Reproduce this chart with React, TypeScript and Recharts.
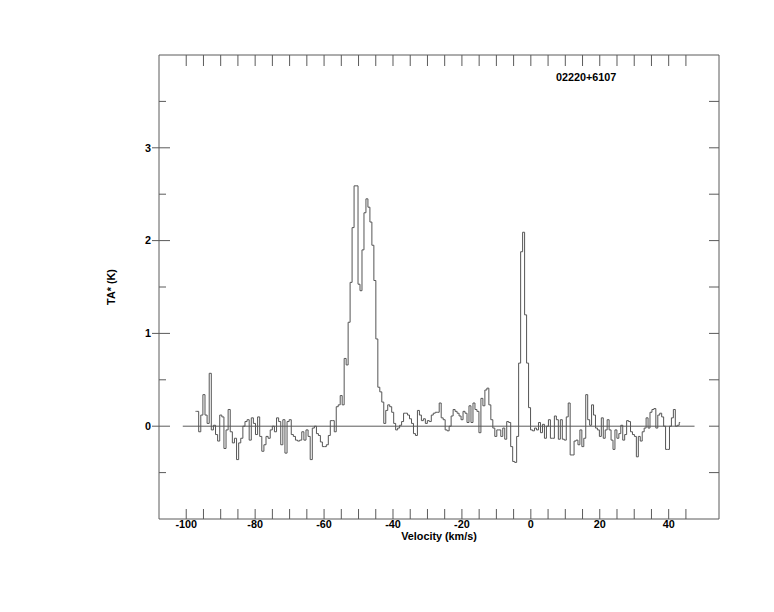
import React from 'react';
import { LineChart, Line, XAxis, YAxis, ReferenceLine } from 'recharts';

// Antenna temperature TA* (K) read channel by channel, in four velocity stretches
const SEG_A_TA = [0.16, 0.16, -0.06, 0.12, 0.34, 0.12, 0.03, 0.57, -0.04, 0.01, -0.09, -0.16, 0.12, 0.10, -0.24, -0.04, 0.18, -0.06, -0.18, -0.13, -0.36, -0.18, -0.13, 0.0, 0.05, 0.07, -0.15, 0.09, 0.03, -0.09, 0.10, -0.11, -0.27, -0.2, -0.11, -0.13, -0.04, 0.0, -0.06, 0.09, 0.05, -0.2, 0.07, -0.29, 0.05, 0.07, -0.09, -0.11, -0.15, -0.16, -0.15, -0.06, -0.15, -0.04, -0.11, -0.36, -0.02];
const SEG_B_TA = [0.0, -0.08, -0.10, -0.17, -0.22, -0.22, -0.2, -0.1, 0.06, 0.06, -0.06, 0.21, 0.23, 0.33, 0.23, 0.73, 0.66, 1.12, 1.55, 2.14, 2.59, 2.59, 1.53, 1.46, 1.9, 2.3, 2.45, 2.36, 2.2, 1.95, 1.57, 0.94, 0.42, 0.37, 0.26, 0.03, 0.17, 0.23, 0.21, 0.15, 0.03, -0.04, -0.02, 0.01, 0.05, 0.14, 0.14, 0.12, 0.08, 0.03, -0.08, -0.1, 0.17, 0.12, 0.06, 0.08, 0.03, 0.06, 0.05, 0.12, 0.14, 0.15, 0.15];
const SEG_C_TA = [0.25, 0.09, 0.07, -0.04, -0.05, 0.0, 0.11, 0.18, 0.16, 0.14, 0.11, 0.07, 0.16, 0.14, 0.04, 0.22, 0.04, 0.25, 0.18, 0.16, -0.07, 0.3, 0.22, 0.39, 0.41, 0.23, 0.07, -0.02, -0.11, -0.04, -0.04, -0.11, -0.02, -0.14, 0.05, 0.04, -0.22, -0.38, -0.39, -0.11, 0.68, 1.88, 2.09, 1.2, 0.68, 0.2, -0.04, -0.05, -0.02, -0.04, 0.04, -0.07, 0.02, -0.13, 0.0, 0.07, -0.13, -0.13, 0.11, 0.07, -0.14, 0.07, -0.14];
const SEG_D_TA = [-0.15, 0.10, 0.25, -0.31, -0.31, -0.16, -0.15, -0.2, -0.04, -0.22, -0.13, 0.34, 0.07, 0.01, 0.23, 0.12, -0.02, -0.04, -0.11, 0.09, -0.13, -0.04, 0.07, -0.04, -0.15, -0.25, -0.04, -0.13, -0.08, 0.01, -0.15, -0.09, 0.06, 0.05, -0.06, -0.09, -0.11, -0.33, -0.11, -0.16, -0.06, -0.02, 0.09, -0.02, 0.15, 0.18, 0.19, -0.02, 0.12, 0.14, 0.10, 0.0, -0.25, -0.25, 0.0, 0.09, 0.18, 0.0, 0.01, 0.04];
// velocity range (km/s) covered by each stretch
const SEG_A_V = [-97.3, -62.5];
const SEG_B_V = [-62.5, -26.3];
const SEG_C_V = [-26.3, 10.0];
const SEG_D_V = [10.0, 43.9];

const X_TICKS = [-100, -95, -90, -85, -80, -75, -70, -65, -60, -55, -50, -45, -40, -35, -30, -25, -20, -15, -10, -5, 0, 5, 10, 15, 20, 25, 30, 35, 40, 45];
const X_LABELS = [-100, -80, -60, -40, -20, 0, 20, 40];
const Y_TICKS = [-0.5, 0, 0.5, 1, 1.5, 2, 2.5, 3, 3.5];
const Y_LABELS = [0, 1, 2, 3];
const BASELINE_V = [-101, 47.5];
const SOURCE = '02220+6107';
const X_TITLE = 'Velocity (km/s)';
const Y_TITLE = 'TA* (K)';

const X_DOMAIN = [-107.9, 54.6];
const Y_DOMAIN = [-1, 4];

const AXIS = '#5a5a5a';
const FONT = '"Liberation Sans", Arial, Helvetica, sans-serif';

function buildSpectrum() {
  const out: { v: number; t: number }[] = [];
  const segs: [number[], number[]][] = [
    [SEG_A_TA, SEG_A_V],
    [SEG_B_TA, SEG_B_V],
    [SEG_C_TA, SEG_C_V],
    [SEG_D_TA, SEG_D_V],
  ];
  segs.forEach(([vals, range]) => {
    const dv = (range[1] - range[0]) / vals.length;
    vals.forEach((t, i) => out.push({ v: +(range[0] + i * dv).toFixed(3), t }));
  });
  return out;
}
const spectrum = buildSpectrum();

const txt = { fontFamily: FONT, fontWeight: 700, fontSize: 10.8, fill: '#000' } as const;

const BottomTick = (p: any) => {
  const { x, y, payload } = p;
  const v = payload.value;
  return (
    <g>
      <line x1={x} x2={x} y1={y} y2={y - 10} stroke={AXIS} strokeWidth={1} />
      {X_LABELS.includes(v) && (
        <text x={x} y={y + 9} textAnchor="middle" style={txt}>{v}</text>
      )}
    </g>
  );
};

const TopTick = (p: any) => {
  const { x, y } = p;
  return <line x1={x} x2={x} y1={y} y2={y + 11} stroke={AXIS} strokeWidth={1} />;
};

const LeftTick = (p: any) => {
  const { x, y, payload } = p;
  const v = payload.value;
  const major = Y_LABELS.includes(v);
  return (
    <g>
      <line x1={major ? x - 7 : x} x2={x + (major ? 11 : 7)} y1={y} y2={y} stroke={AXIS} strokeWidth={1} />
      {major && (
        <text x={x - 8} y={y} dy="0.36em" textAnchor="end" style={txt}>{v}</text>
      )}
    </g>
  );
};

const RightTick = (p: any) => {
  const { x, y } = p;
  return <line x1={x} x2={x - 10} y1={y} y2={y} stroke={AXIS} strokeWidth={1} />;
};

const XTitle = (p: any) => {
  const vb = p.viewBox || {};
  return (
    <text x={vb.x + vb.width / 2} y={vb.y + 21} textAnchor="middle" style={txt}>{X_TITLE}</text>
  );
};

const YTitle = (p: any) => {
  const vb = p.viewBox || {};
  const cx = vb.x - 8;
  const cy = vb.y + vb.height / 2;
  return (
    <text x={cx} y={cy} dy="0.36em" textAnchor="middle" transform={`rotate(-90 ${cx} ${cy})`} style={txt}>{Y_TITLE}</text>
  );
};

const SourceTitle = (p: any) => {
  const vb = p.viewBox || {};
  return (
    <text x={vb.x + vb.width * 0.709} y={vb.y + vb.height + 26} textAnchor="start" style={txt}>{SOURCE}</text>
  );
};

export default function App() {
  return (
    <div style={{ position: 'absolute', left: 0, top: 0, width: 774, height: 612, background: '#fff' }}>
      <LineChart
        width={774}
        height={612}
        margin={{ top: 35, right: 35, bottom: 63, left: 119 }}
      >
        <XAxis
          xAxisId="bottom"
          orientation="bottom"
          type="number"
          dataKey="v"
          domain={X_DOMAIN}
          allowDataOverflow
          ticks={X_TICKS}
          interval={0}
          height={30}
          tickSize={0}
          tickMargin={0}
          tickLine={false}
          axisLine={{ stroke: AXIS }}
          tick={<BottomTick />}
          label={<XTitle />}
        />
        <XAxis
          xAxisId="top"
          orientation="top"
          type="number"
          dataKey="v"
          domain={X_DOMAIN}
          allowDataOverflow
          ticks={X_TICKS}
          interval={0}
          height={20}
          tickSize={0}
          tickMargin={0}
          tickLine={false}
          axisLine={{ stroke: AXIS }}
          tick={<TopTick />}
          label={<SourceTitle />}
        />
        <YAxis
          yAxisId="left"
          orientation="left"
          type="number"
          domain={Y_DOMAIN}
          allowDataOverflow
          ticks={Y_TICKS}
          interval={0}
          width={40}
          tickSize={0}
          tickMargin={0}
          tickLine={false}
          axisLine={{ stroke: AXIS }}
          tick={<LeftTick />}
          label={<YTitle />}
        />
        <YAxis
          yAxisId="right"
          orientation="right"
          type="number"
          domain={Y_DOMAIN}
          allowDataOverflow
          ticks={Y_TICKS}
          interval={0}
          width={20}
          tickSize={0}
          tickMargin={0}
          tickLine={false}
          axisLine={{ stroke: AXIS }}
          tick={<RightTick />}
        />
        <ReferenceLine
          xAxisId="bottom"
          yAxisId="left"
          segment={[{ x: BASELINE_V[0], y: 0 }, { x: BASELINE_V[1], y: 0 }]}
          stroke={AXIS}
          strokeWidth={1}
          ifOverflow="visible"
        />
        <Line
          xAxisId="bottom"
          yAxisId="left"
          data={spectrum}
          dataKey="t"
          type="step"
          stroke="#555555"
          strokeWidth={1}
          dot={false}
          activeDot={false}
          isAnimationActive={false}
        />
      </LineChart>
    </div>
  );
}
